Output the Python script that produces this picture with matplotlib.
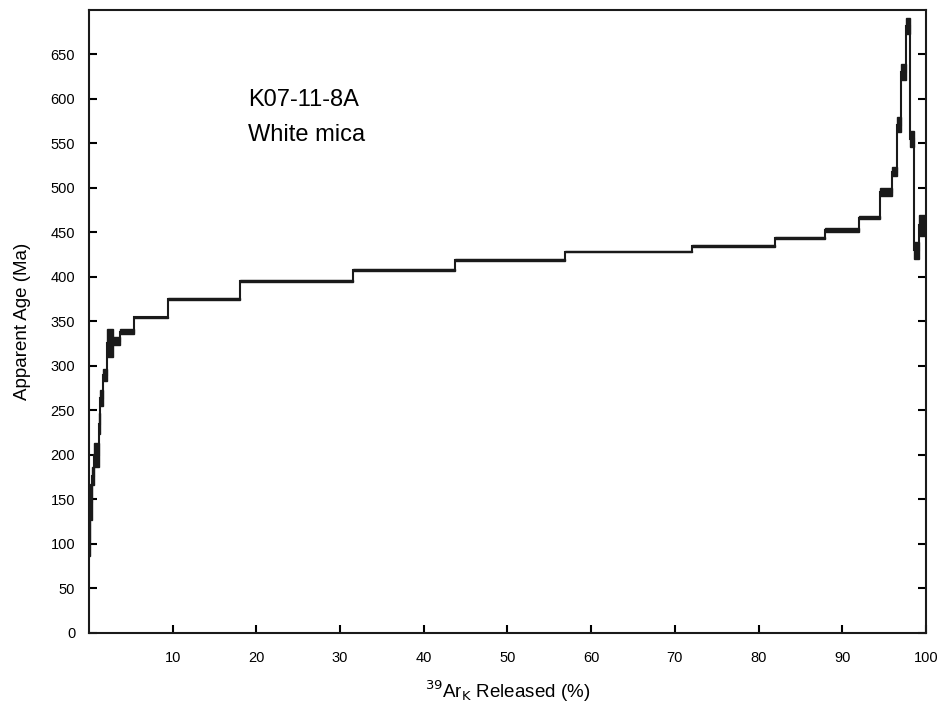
import numpy as np
import matplotlib
matplotlib.use("Agg")
import matplotlib.pyplot as plt
from matplotlib.patches import Rectangle

plt.rcParams['font.family'] = ['Liberation Sans', 'DejaVu Sans']

# heating steps: cumulative 39Ar released (%) at end of each step, apparent age, 1 sigma error (Ma)
cum_end = [0.15, 0.3, 0.6, 1.2, 1.35, 1.7, 2.2, 2.85, 3.75, 5.4, 9.4, 18.05, 31.5,
           43.75, 56.9, 72.1, 82.0, 88.0, 92.0, 94.5, 96.0, 96.6, 97.05, 97.6,
           98.15, 98.6, 99.15, 100.0]
age = [106, 147, 176, 200, 235, 264, 290, 326, 328, 338.5, 354.5, 375.5, 395.5,
       407.5, 419.5, 428.5, 435, 443.5, 453, 466.5, 495, 518, 571, 630,
       682, 555, 430, 458]
err = [20, 20, 10, 14, 12, 9, 7, 16, 4, 3, 1, 1, 1,
       1, 1, 1, 1, 1, 2.5, 1.5, 4.5, 5, 8.5, 9,
       8.5, 9.5, 9.5, 12]

cum_start = [0.0] + cum_end[:-1]

fig = plt.figure(figsize=(9.4, 7.12), dpi=100)
ax = fig.add_axes([0.0947, 0.111, 0.8903, 0.875])

for x0, x1, a, e in zip(cum_start, cum_end, age, err):
    ax.add_patch(Rectangle((x0, a - e), x1 - x0, 2 * e, facecolor="#1a1a1a",
                           edgecolor="#1a1a1a", linewidth=1.0, zorder=3))

# step outline joining the boxes
xs = [cum_start[0]]
ys = [age[0]]
for i in range(len(age)):
    xs += [cum_start[i], cum_end[i]]
    ys += [age[i], age[i]]
ax.plot(xs, ys, color="#1a1a1a", linewidth=1.5, zorder=4, solid_joinstyle="miter")

ax.text(19.0, 599, "K07-11-8A", fontsize=17, va="center", ha="left")
ax.text(19.0, 560, "White mica", fontsize=17, va="center", ha="left")

ax.set_xlim(0, 100)
ax.set_ylim(0, 700)
ax.set_xticks(np.arange(10, 101, 10))
ax.set_yticks(np.arange(0, 651, 50))
ax.tick_params(direction="in", length=6, width=1.5, labelsize=10.5, right=True, top=False,
               pad=10)
ax.tick_params(axis="x", pad=13)
for s in ax.spines.values():
    s.set_linewidth(1.5)
    s.set_color("#1a1a1a")

ax.set_xlabel(r"$^{39}$Ar$_{\mathrm{K}}$ Released (%)", fontsize=13.5, labelpad=10)
ax.set_ylabel("Apparent Age (Ma)", fontsize=13.5, labelpad=14)

fig.savefig("out.png", dpi=100)
